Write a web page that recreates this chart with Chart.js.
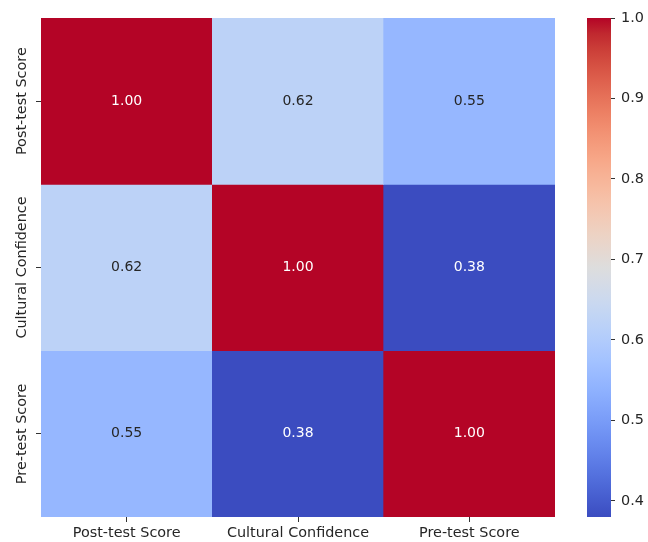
<!DOCTYPE html>
<html>
<head>
<meta charset="utf-8">
<script src="https://cdn.jsdelivr.net/npm/chart.js@4"></script>
<style>
  body { margin: 0; background: #fff; }
  #wrap { position: relative; width: 648px; height: 542px; }
  canvas { position: absolute; top: 0; }
  #heatmap { left: 0; }
  #colorbar { left: 570px; }
</style>
</head>
<body>
<div id="wrap">
  <canvas id="heatmap" width="570" height="542"></canvas>
  <canvas id="colorbar" width="78" height="542"></canvas>
</div>
<script>
// Correlation matrix
const variables = ['Post-test Score', 'Cultural Confidence', 'Pre-test Score'];
const postTestRow = [1.00, 0.62, 0.55];
const culturalConfidenceRow = [0.62, 1.00, 0.38];
const preTestRow = [0.55, 0.38, 1.00];
const rows = [postTestRow, culturalConfidenceRow, preTestRow];

// Colour scale range and colorbar ticks
const vmin = 0.38;
const vmax = 1.0;
const colorbarTicks = [0.4, 0.5, 0.6, 0.7, 0.8, 0.9, 1.0];

const FONT = 'DejaVu Sans';
const TEXT = '#262626';
const LABEL_SIZE = 14.4;

// coolwarm colormap, 33 evenly spaced stops
const coolwarm = [
  [59,76,192],[68,90,204],[77,104,215],[87,117,225],[98,130,234],[108,142,241],
  [119,154,247],[130,165,251],[141,176,254],[152,185,255],[163,194,255],[174,201,253],
  [184,208,249],[194,213,244],[204,217,238],[213,219,230],[221,221,221],[229,216,209],
  [236,211,197],[241,204,185],[245,196,173],[247,187,160],[247,177,148],[247,166,135],
  [244,154,123],[241,141,111],[236,127,99],[229,112,88],[222,96,77],[213,80,66],
  [203,62,56],[192,40,47],[180,4,38]
];

function cmapRgb(t) {
  t = Math.min(1, Math.max(0, t));
  const pos = t * (coolwarm.length - 1);
  const i = Math.min(coolwarm.length - 2, Math.floor(pos));
  const f = pos - i;
  const a = coolwarm[i], b = coolwarm[i + 1];
  return a.map((v, k) => Math.round(v + (b[k] - v) * f));
}

function colorFor(v) {
  const [r, g, b] = cmapRgb((v - vmin) / (vmax - vmin));
  return `rgb(${r},${g},${b})`;
}

function luminance(v) {
  const lin = cmapRgb((v - vmin) / (vmax - vmin)).map(c => {
    c /= 255;
    return c <= 0.03928 ? c / 12.92 : Math.pow((c + 0.055) / 1.055, 2.4);
  });
  return 0.2126 * lin[0] + 0.7152 * lin[1] + 0.0722 * lin[2];
}

// cell values written in the middle of each cell
const annotate = {
  id: 'annotate',
  afterDatasetsDraw(chart) {
    const ctx = chart.ctx;
    ctx.save();
    ctx.font = `14px "${FONT}"`;
    ctx.textAlign = 'center';
    ctx.textBaseline = 'middle';
    rows.forEach((row, r) => {
      chart.getDatasetMeta(r).data.forEach((bar, c) => {
        const p = bar.getCenterPoint();
        ctx.fillStyle = luminance(row[c]) < 0.408 ? '#ffffff' : TEXT;
        ctx.fillText(row[c].toFixed(2), p.x, p.y);
      });
    });
    ctx.restore();
  }
};

// vertical row labels on the left axis
const rowLabels = {
  id: 'rowLabels',
  afterDraw(chart) {
    const ctx = chart.ctx;
    const y = chart.scales.y;
    ctx.save();
    ctx.font = `${LABEL_SIZE}px "${FONT}"`;
    ctx.fillStyle = TEXT;
    ctx.textAlign = 'center';
    ctx.textBaseline = 'middle';
    y.ticks.forEach((t, i) => {
      ctx.save();
      ctx.translate(22, y.getPixelForTick(i));
      ctx.rotate(-Math.PI / 2);
      ctx.fillText(variables[i], 0, 0);
      ctx.restore();
    });
    ctx.restore();
  }
};

new Chart(document.getElementById('heatmap'), {
  type: 'bar',
  data: {
    labels: variables,
    datasets: rows.map((row, r) => ({
      label: variables[r],
      data: row.map(() => [r, r + 1]),
      backgroundColor: row.map(colorFor),
      grouped: false,
      barPercentage: 1,
      categoryPercentage: 1,
      borderWidth: 0,
      borderSkipped: false
    }))
  },
  options: {
    responsive: false,
    animation: false,
    events: [],
    layout: { padding: { top: 18, right: 15, left: 0, bottom: 0 } },
    plugins: { legend: { display: false }, tooltip: { enabled: false } },
    scales: {
      x: {
        grid: { offset: false, drawOnChartArea: false, tickLength: 5, tickColor: '#333' },
        border: { display: false },
        ticks: { color: TEXT, font: { family: FONT, size: LABEL_SIZE }, padding: 3, maxRotation: 0 },
        afterFit(scale) { scale.height = 25; }
      },
      y: {
        min: 0,
        max: 3,
        reverse: true,
        afterBuildTicks(scale) {
          scale.ticks = variables.map((_, i) => ({ value: i + 0.5 }));
        },
        grid: { drawOnChartArea: false, tickLength: 5, tickColor: '#333' },
        border: { display: false },
        ticks: { display: false },
        afterFit(scale) { scale.width = 41; }
      }
    }
  },
  plugins: [annotate, rowLabels]
});

// colorbar: a single floating bar filled with the colormap gradient
new Chart(document.getElementById('colorbar'), {
  type: 'bar',
  data: {
    labels: [''],
    datasets: [{
      data: [[vmin, vmax]],
      backgroundColor(context) {
        const chart = context.chart;
        if (!chart.chartArea) return colorFor(vmax);
        const y = chart.scales.y;
        const g = chart.ctx.createLinearGradient(0, y.getPixelForValue(vmin), 0, y.getPixelForValue(vmax));
        coolwarm.forEach((c, i) => {
          g.addColorStop(i / (coolwarm.length - 1), `rgb(${c[0]},${c[1]},${c[2]})`);
        });
        return g;
      },
      barPercentage: 1,
      categoryPercentage: 1,
      borderWidth: 0,
      borderSkipped: false
    }]
  },
  options: {
    responsive: false,
    animation: false,
    events: [],
    layout: { padding: { top: 18, left: 17, right: 0, bottom: 25 } },
    plugins: { legend: { display: false }, tooltip: { enabled: false } },
    scales: {
      x: { display: false },
      y: {
        position: 'right',
        min: vmin,
        max: vmax,
        afterBuildTicks(scale) {
          scale.ticks = colorbarTicks.map(v => ({ value: v }));
        },
        grid: { drawOnChartArea: false, tickLength: 4, tickColor: '#333' },
        border: { display: false },
        ticks: {
          color: TEXT,
          font: { family: FONT, size: LABEL_SIZE },
          padding: 6,
          callback: v => Number(v).toFixed(1)
        },
        afterFit(scale) { scale.width = 37; }
      }
    }
  }
});
</script>
</body>
</html>
